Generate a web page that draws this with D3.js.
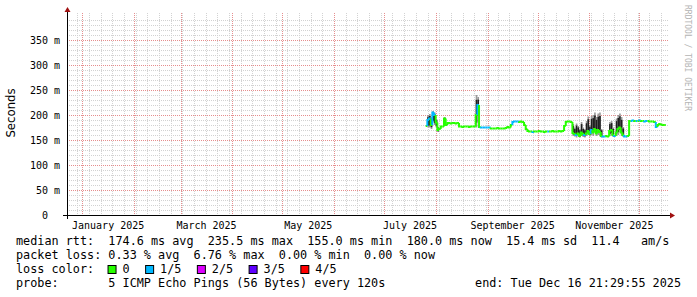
<!DOCTYPE html>
<html>
<head>
<meta charset="utf-8">
<script src="https://cdn.jsdelivr.net/npm/d3@7"></script>
<style>
  body { margin: 0; background: #fff; }
  text { font-family: 'DejaVu Sans Mono', monospace; white-space: pre; }
</style>
</head>
<body>
<div id="chart"></div>
<script>
// --- data ---
const labelMonths = ["2025-01", "2025-03", "2025-05", "2025-07", "2025-09", "2025-11"];
const yTicks = [0, 50, 100, 150, 200, 250, 300, 350];

// daily median rtt (ms), 25 Jul -> 16 Dec 2025
const median = [
  178, 190, 193, 180, 205, 200, 185, 170, 172, 177,   // 0
  177, 193, 180, 184, 184, 183, 184, 184, 183, 184,   // 10
  177, 177, 176, 177, 177, 177, 176, 177, 177, 177,   // 20
  200, 220, 176, 175, 175, 175, 175, 175, 175, 173,   // 30
  173, 173, 173, 174, 173, 173, 173, 173, 174, 176,   // 40
  175, 180, 186, 187, 187, 187, 186, 187, 186, 180,   // 50
  172, 168, 167, 167, 166, 167, 167, 167, 168, 167,   // 60
  167, 166, 167, 167, 167, 167, 168, 167, 167, 167,   // 70
  168, 167, 168, 178, 186, 187, 187, 186, 164, 162,   // 80
  160, 163, 158, 165, 162, 160, 163, 168, 162, 170,   // 90
  165, 172, 163, 170, 166, 158, 157, 157, 158, 157,   // 100
  168, 170, 160, 158, 165, 172, 175, 165, 160, 157,   // 110
  157, 158, 188, 188, 189, 188, 188, 188, 189, 188,   // 120
  188, 187, 188, 188, 187, 187, 187, 186, 176, 180,   // 130
  182, 181, 180, 180, 180                             // 140
];

// days where 1 of 5 pings was lost
const lossOne = [1, 2, 4, 5, 31, 33, 34, 35, 36, 37, 38, 52, 53, 54, 55, 64, 73,
  90, 95, 99, 106, 107, 113, 119, 120, 123, 124, 126, 128, 131, 132, 138];

// smoke: [day, lowest ping, highest ping]
const smoke = [
  [1, 175, 200], [2, 175, 202], [3, 172, 196], [4, 185, 208], [5, 180, 205],
  [6, 175, 192], [7, 166, 176], [11, 178, 196], [30, 175, 240], [31, 200, 236],
  [88, 158, 182], [89, 157, 175], [90, 155, 183], [91, 158, 178], [92, 155, 172],
  [93, 158, 186], [94, 156, 175], [95, 155, 172], [96, 158, 188], [97, 160, 197],
  [98, 157, 180], [99, 160, 198], [100, 158, 200], [101, 165, 205], [102, 158, 196],
  [103, 160, 203], [104, 158, 205], [105, 155, 172], [110, 158, 186], [111, 160, 188],
  [112, 156, 175], [114, 158, 193], [115, 160, 200], [116, 165, 203], [117, 158, 196],
  [118, 156, 176]
];

const lossLabels = ["0", "1/5", "2/5", "3/5", "4/5"];
const lossColors = ["#26ff00", "#00b8ff", "#dd00ff", "#5e00ff", "#ff0000"];

const rttStats = ["174.6 ms avg", "235.5 ms max", "155.0 ms min", "180.0 ms now", "15.4 ms sd", "11.4   am/s"];
const lossStats = ["0.33 % avg", "6.76 % max", "0.00 % min", "0.00 % now"];
const probeText = "5 ICMP Echo Pings (56 Bytes) every 120s";
const endText = "end: Tue Dec 16 21:29:55 2025";

// --- layout ---
const width = 697, height = 297;
const plot = { left: 67, right: 668, top: 13, bottom: 215 };
const legendX = 16, charW = 7.08, legendFont = "11.8px";

const svg = d3.select("#chart").append("svg")
    .attr("width", width).attr("height", height);

const endDate = new Date(2025, 11, 16, 21, 29, 55);
const x = d3.scaleTime()
    .domain([new Date(2024, 11, 22, 19, 48), new Date(2025, 11, 18, 5, 0)])
    .range([plot.left, plot.right]);
const y = d3.scaleLinear()
    .domain([0, 404])
    .range([plot.bottom, plot.top]);

const day = i => d3.timeDay.offset(endDate, i - (median.length - 1));

// grid
const grid = svg.append("g");
const minorY = d3.range(10, 400, 10).filter(v => v % 50 !== 0);
grid.selectAll(".hminor").data(minorY).enter().append("line")
    .attr("x1", plot.left).attr("x2", plot.right)
    .attr("y1", d => Math.round(y(d)) + 0.5).attr("y2", d => Math.round(y(d)) + 0.5)
    .attr("stroke", "#d2d2d2").attr("stroke-dasharray", "1,1");
grid.selectAll(".vminor").data(d3.timeSunday.range(x.domain()[0], x.domain()[1])).enter().append("line")
    .attr("x1", d => Math.round(x(d)) + 0.5).attr("x2", d => Math.round(x(d)) + 0.5)
    .attr("y1", plot.top).attr("y2", plot.bottom)
    .attr("stroke", "#d2d2d2").attr("stroke-dasharray", "1,1");
grid.selectAll(".hmajor").data(yTicks.filter(v => v > 0)).enter().append("line")
    .attr("x1", plot.left).attr("x2", plot.right)
    .attr("y1", d => Math.round(y(d)) + 0.5).attr("y2", d => Math.round(y(d)) + 0.5)
    .attr("stroke", "#e68e8e").attr("stroke-dasharray", "1,1");
grid.selectAll(".vmajor").data(d3.timeMonth.range(x.domain()[0], x.domain()[1])).enter().append("line")
    .attr("x1", d => Math.round(x(d)) + 0.5).attr("x2", d => Math.round(x(d)) + 0.5)
    .attr("y1", plot.top).attr("y2", plot.bottom)
    .attr("stroke", "#e68e8e").attr("stroke-dasharray", "1,1");

// smoke
const smokeG = svg.append("g");
smoke.forEach(([i, lo, hi]) => {
    const x0 = x(day(i)), x1 = x(day(i + 1));
    smokeG.append("rect")
        .attr("x", x0).attr("width", x1 - x0)
        .attr("y", y(hi)).attr("height", y(lo) - y(hi))
        .attr("fill", "#9a9a9a");
    const pad = (hi - lo) * 0.15;
    smokeG.append("rect")
        .attr("x", x0).attr("width", x1 - x0)
        .attr("y", y(hi - pad)).attr("height", y(lo + pad) - y(hi - pad))
        .attr("fill", "#1e1e1e");
});

// median, coloured by loss
const lineG = svg.append("g");
for (let i = 0; i < median.length - 1; i++) {
    const prev = i > 0 ? median[i - 1] : median[i];
    const col = lossOne.includes(i) ? lossColors[1] : lossColors[0];
    lineG.append("path")
        .attr("d", `M${x(day(i))},${y(prev)}V${y(median[i])}H${x(day(i + 1))}`)
        .attr("fill", "none")
        .attr("stroke", col)
        .attr("stroke-width", 2);
}

// axes
svg.append("line")
    .attr("x1", plot.left - 4).attr("x2", plot.right + 3)
    .attr("y1", plot.bottom + 0.5).attr("y2", plot.bottom + 0.5)
    .attr("stroke", "#000");
svg.append("line")
    .attr("x1", plot.left + 0.5).attr("x2", plot.left + 0.5)
    .attr("y1", plot.bottom + 4).attr("y2", plot.top - 2)
    .attr("stroke", "#000");
svg.append("path")
    .attr("d", `M${plot.right + 2},${plot.bottom - 2.5}L${plot.right + 7},${plot.bottom + 0.5}L${plot.right + 2},${plot.bottom + 3.5}Z`)
    .attr("fill", "#a01010");
svg.append("path")
    .attr("d", `M${plot.left - 2.5},${plot.top - 1}L${plot.left + 0.5},${plot.top - 6}L${plot.left + 3.5},${plot.top - 1}Z`)
    .attr("fill", "#a01010");

// y labels
svg.selectAll(".ylab").data(yTicks).enter().append("text")
    .attr("x", d => d === 0 ? 48 : 60)
    .attr("y", d => y(d) + 3.5)
    .attr("text-anchor", "end")
    .attr("font-size", "10px")
    .attr("fill", "#000")
    .text(d => d === 0 ? "0" : d + " m");

// x labels, centred in their month
const parseMonth = d3.timeParse("%Y-%m");
svg.selectAll(".xlab").data(labelMonths.map(parseMonth)).enter().append("text")
    .attr("x", d => (x(d) + x(d3.timeMonth.offset(d, 1))) / 2)
    .attr("y", 228.5)
    .attr("text-anchor", "middle")
    .attr("font-size", "10px")
    .text(d3.timeFormat("%B %Y"));

svg.append("text")
    .attr("transform", "translate(15,113) rotate(-90)")
    .attr("text-anchor", "middle")
    .style("font-family", "'DejaVu Sans', sans-serif")
    .attr("font-size", "11.7px")
    .text("Seconds");

svg.append("text")
    .attr("transform", "translate(685,5) rotate(90)")
    .attr("font-size", "8px")
    .attr("fill", "#b4b4b4")
    .text("RRDTOOL / TOBI OETIKER");

// legend
const legend = svg.append("g").attr("font-size", legendFont);
legend.append("text").attr("x", legendX).attr("y", 245)
    .text("median rtt:  " + rttStats.join("  "));
legend.append("text").attr("x", legendX).attr("y", 259)
    .text("packet loss: " + lossStats.join("  "));
legend.append("text").attr("x", legendX).attr("y", 273)
    .text("loss color:");
let lx = legendX + 13 * charW - 0.5;
lossLabels.forEach((lab, i) => {
    legend.append("rect")
        .attr("x", lx + 0.5).attr("y", 265.5)
        .attr("width", 8).attr("height", 8)
        .attr("fill", lossColors[i]).attr("stroke", "#000");
    legend.append("text").attr("x", lx + 15).attr("y", 273).text(lab);
    lx += 15 + lab.length * charW + 15.5;
});
legend.append("text").attr("x", legendX).attr("y", 287)
    .text("probe:       " + probeText);
legend.append("text").attr("x", 681).attr("y", 287)
    .attr("text-anchor", "end")
    .text(endText);
</script>
</body>
</html>
